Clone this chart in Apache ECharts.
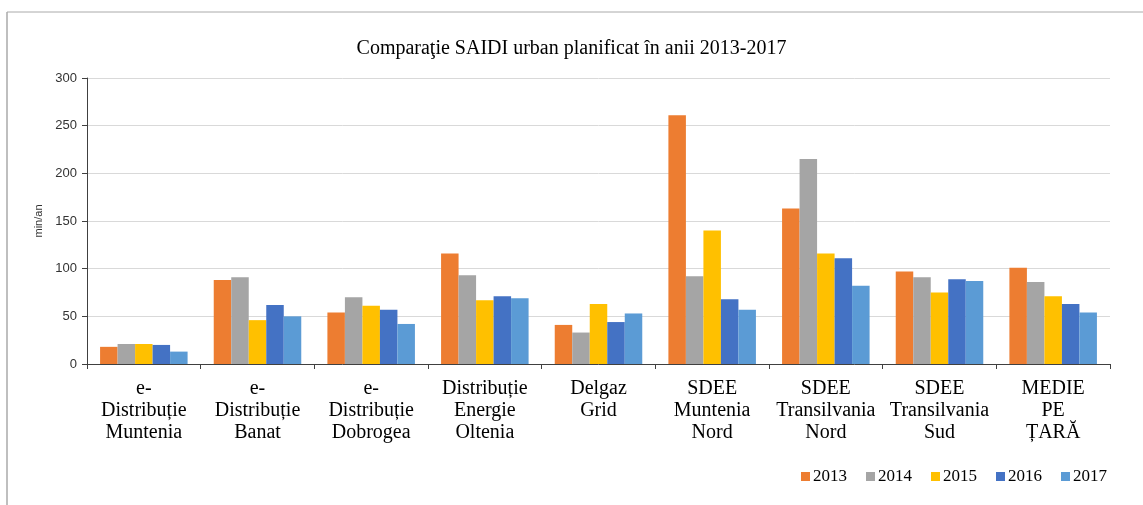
<!DOCTYPE html>
<html><head><meta charset="utf-8">
<script src="https://cdn.jsdelivr.net/npm/echarts@6/dist/echarts.min.js"></script>
<style>html,body{margin:0;padding:0;background:#fff;}#c{width:1143px;height:505px;}</style>
</head><body><div id="c"></div>
<script>
const categories = ["e-\nDistribuție\nMuntenia","e-\nDistribuție\nBanat","e-\nDistribuție\nDobrogea","Distribuție\nEnergie\nOltenia","Delgaz\nGrid","SDEE\nMuntenia\nNord","SDEE\nTransilvania\nNord","SDEE\nTransilvania\nSud","MEDIE\nPE\nȚARĂ"];
const years = ["2013","2014","2015","2016","2017"];
const v2013 = [18, 88, 54, 116, 41, 261, 163, 97, 101];
const v2014 = [21, 91, 70, 93, 33, 92, 215, 91, 86];
const v2015 = [21, 46, 61, 67, 63, 140, 116, 75, 71];
const v2016 = [20, 62, 57, 71, 44, 68, 111, 89, 63];
const v2017 = [13, 50, 42, 69, 53, 57, 82, 87, 54];
const yTicks = [0, 50, 100, 150, 200, 250, 300];
const colors = ["#ED7D31","#A5A5A5","#FFC000","#4472C4","#5B9BD5"];
const seriesData = [v2013, v2014, v2015, v2016, v2017];

const chart = echarts.init(document.getElementById('c'));
chart.setOption({
  animation:false,
  title:{text:"Comparaţie SAIDI urban planificat în anii 2013-2017",left:'center',top:34,
    textStyle:{fontFamily:'Liberation Serif',fontSize:20,fontWeight:'normal',color:'#000'}},
  legend:{right:31,top:463,itemWidth:9,itemHeight:9,itemGap:19,icon:'rect',
    textStyle:{fontFamily:'Liberation Serif',fontSize:17,color:'#000',padding:[0,0,0,-2]}},
  grid:{left:87,right:33,top:78,bottom:141},
  xAxis:{type:'category',data:categories,
    axisLine:{lineStyle:{color:'#404040'}},
    axisTick:{show:true,alignWithLabel:false,length:5,lineStyle:{color:'#404040'}},
    axisLabel:{interval:0,margin:14,fontFamily:'Liberation Serif',fontSize:20,lineHeight:22,color:'#000'}},
  yAxis:{type:'value',min:yTicks[0],max:yTicks[yTicks.length-1],interval:50,
    name:'min/an',nameLocation:'middle',nameGap:34,nameRotate:90,
    nameTextStyle:{fontFamily:'Liberation Sans',fontSize:11,color:'#333'},
    axisLine:{show:true,lineStyle:{color:'#404040'}},
    axisTick:{show:true,length:5,lineStyle:{color:'#404040'}},
    axisLabel:{margin:10,fontFamily:'Liberation Sans',fontSize:13,color:'#333'},
    splitLine:{lineStyle:{color:'#d9d9d9'}}},
  series: years.map((y,i)=>({name:y,type:'bar',data:seriesData[i],
    itemStyle:{color:colors[i]},barGap:'0%',barCategoryGap:'23%'})),
  graphic:[
    {type:'line',shape:{x1:7,y1:12,x2:1143,y2:12},style:{stroke:'#aaa',lineWidth:1}},
    {type:'line',shape:{x1:7,y1:12,x2:7,y2:505},style:{stroke:'#aaa',lineWidth:1.5}}
  ]
});
</script></body></html>
